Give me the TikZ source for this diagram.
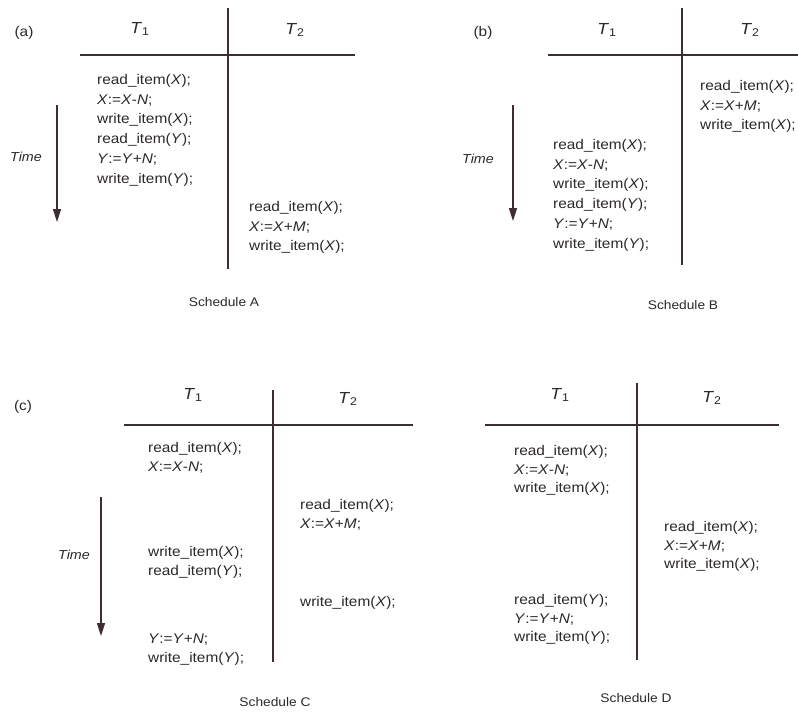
\documentclass[tikz,border=0pt]{standalone}
\usepackage{fontspec}
\setmainfont[FakeStretch=1.1]{Liberation Sans}
\usetikzlibrary{arrows.meta}
\definecolor{ink}{RGB}{62,46,52}
\definecolor{txt}{RGB}{45,40,42}
\begin{document}
\begin{tikzpicture}[x=1pt,y=-1pt,
  rule/.style={draw=ink, line width=1.4pt},
  timearrow/.style={draw=ink, line width=1.5pt, -{Triangle[width=8pt,length=13pt]}},
  codeup/.style={anchor=north west, inner sep=0pt, align=left, text=txt, font=\fontsize{14}{19.8}\selectfont},
  codelo/.style={anchor=north west, inner sep=0pt, align=left, text=txt, font=\fontsize{14}{18.7}\selectfont},
  head/.style={inner sep=0pt, text=txt, font=\fontsize{16}{18}\selectfont},
  tag/.style={inner sep=0pt, text=txt, font=\fontsize{14}{16}\selectfont},
  timelbl/.style={inner sep=0pt, text=txt, font=\fontsize{13}{15}\selectfont\itshape},
  sched/.style={inner sep=0pt, text=txt, font=\fontsize{12.5}{15}\selectfont}]
\useasboundingbox[fill=white] (0,0) rectangle (798,715);

% ---------- Panel (a) ----------
\node[tag] (atag) at (24,33) {(a)};
\node[head] (aT1) at (140,29) {\textit{T}\textsubscript{1}};
\node[head] (aT2) at (295,30) {\textit{T}\textsubscript{2}};
\coordinate (ahl) at (80,55); \coordinate (ahr) at (355,55);
\coordinate (avt) at (228,8); \coordinate (avb) at (228,269);
\draw[rule] (ahl) -- (ahr);
\draw[rule] (avt) -- (avb);
\coordinate (aat) at (57,105); \coordinate (aab) at (57,222);
\draw[timearrow] (aat) -- (aab);
\node[timelbl] (atime) at (26,157) {Time};
\node[codeup] (a1) at (97,74) {read\_item(\textit{X});\\\textit{X}:=\textit{X}-\textit{N};\\write\_item(\textit{X});\\read\_item(\textit{Y});\\\textit{Y}:=\textit{Y}+\textit{N};\\write\_item(\textit{Y});};
\node[codeup] (a2) at (249,201) {read\_item(\textit{X});\\\textit{X}:=\textit{X}+\textit{M};\\write\_item(\textit{X});};
\node[sched] (aS) at (224,302) {Schedule A};

% ---------- Panel (b) ----------
\node[tag] (btag) at (483,33) {(b)};
\node[head] (bT1) at (607,30) {\textit{T}\textsubscript{1}};
\node[head] (bT2) at (750,30) {\textit{T}\textsubscript{2}};
\coordinate (bhl) at (548,55); \coordinate (bhr) at (798,55);
\coordinate (bvt) at (682,8); \coordinate (bvb) at (682,265);
\draw[rule] (bhl) -- (bhr);
\draw[rule] (bvt) -- (bvb);
\coordinate (bat) at (513,105); \coordinate (bab) at (513,221);
\draw[timearrow] (bat) -- (bab);
\node[timelbl] (btime) at (478,159) {Time};
\node[codeup] (b1) at (553,139) {read\_item(\textit{X});\\\textit{X}:=\textit{X}-\textit{N};\\write\_item(\textit{X});\\read\_item(\textit{Y});\\\textit{Y}:=\textit{Y}+\textit{N};\\write\_item(\textit{Y});};
\node[codeup] (b2) at (700,80) {read\_item(\textit{X});\\\textit{X}:=\textit{X}+\textit{M};\\write\_item(\textit{X});};
\node[sched] (bS) at (683,305) {Schedule B};

% ---------- Panel (c) ----------
\node[tag] (ctag) at (23,407) {(c)};
\node[head] (cT1) at (193,395) {\textit{T}\textsubscript{1}};
\node[head] (cT2) at (348,399) {\textit{T}\textsubscript{2}};
\coordinate (chl) at (124,425); \coordinate (chr) at (413,425);
\coordinate (cvt) at (273,390); \coordinate (cvb) at (273,662);
\draw[rule] (chl) -- (chr);
\draw[rule] (cvt) -- (cvb);
\coordinate (cat) at (101,497); \coordinate (cab) at (101,636);
\draw[timearrow] (cat) -- (cab);
\node[timelbl] (ctime) at (74,555) {Time};
\node[codelo] (c1) at (148,442) {read\_item(\textit{X});\\\textit{X}:=\textit{X}-\textit{N};};
\node[codelo] (c2) at (148,546) {write\_item(\textit{X});\\read\_item(\textit{Y});};
\node[codelo] (c3) at (148,634) {\textit{Y}:=\textit{Y}+\textit{N};\\write\_item(\textit{Y});};
\node[codelo] (c4) at (300,499) {read\_item(\textit{X});\\\textit{X}:=\textit{X}+\textit{M};};
\node[codelo] (c5) at (300,596) {write\_item(\textit{X});};
\node[sched] (cS) at (275,702) {Schedule C};

% ---------- Panel (d) ----------
\node[head] (dT1) at (560,395) {\textit{T}\textsubscript{1}};
\node[head] (dT2) at (712,398) {\textit{T}\textsubscript{2}};
\coordinate (dhl) at (485,425); \coordinate (dhr) at (779,425);
\coordinate (dvt) at (637,383); \coordinate (dvb) at (637,660);
\draw[rule] (dhl) -- (dhr);
\draw[rule] (dvt) -- (dvb);
\node[codelo] (d1) at (514,445) {read\_item(\textit{X});\\\textit{X}:=\textit{X}-\textit{N};\\write\_item(\textit{X});};
\node[codelo] (d2) at (514,594) {read\_item(\textit{Y});\\\textit{Y}:=\textit{Y}+\textit{N};\\write\_item(\textit{Y});};
\node[codelo] (d3) at (664,521) {read\_item(\textit{X});\\\textit{X}:=\textit{X}+\textit{M};\\write\_item(\textit{X});};
\node[sched] (dS) at (636,698) {Schedule D};
\end{tikzpicture}
\end{document}
